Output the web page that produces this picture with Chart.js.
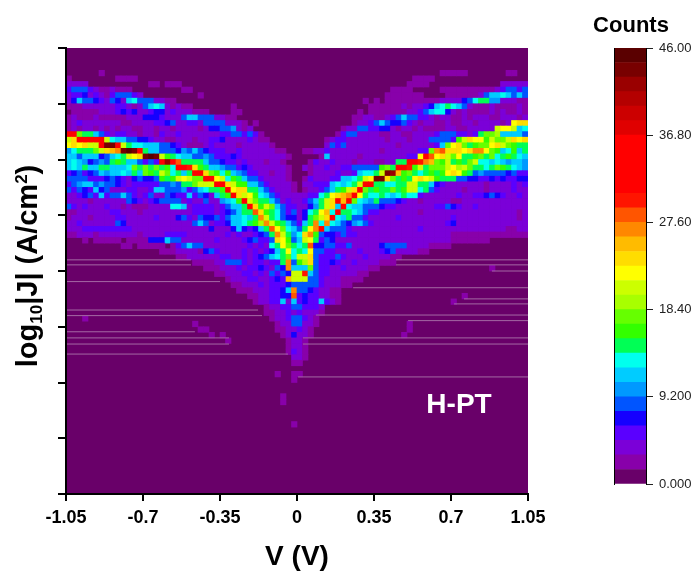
<!DOCTYPE html>
<html>
<head>
<meta charset="utf-8">
<title>H-PT</title>
<script src="https://cdn.jsdelivr.net/npm/chart.js@4"></script>
<style>
  html, body { margin: 0; background: #fff; }
  canvas { position: absolute; top: 0; display: block; }
  #map { left: 0; }
  #bar { left: 560px; }
</style>
</head>
<body>
<canvas id="map" width="694" height="574"></canvas>
<canvas id="bar" width="134" height="574"></canvas>
<script>
const zeros = n => Array(n).fill(0)

// counts per cell, one array per row of the map, named by row number from the bottom
const r12 = [...zeros(41),2]
const r16 = [...zeros(39),2]
const r17 = [...zeros(39),2]
const r20 = [...zeros(41),2]
const r21 = [...zeros(38),2,0,0,2,2]
const r23 = [...zeros(41),2,2]
const r24 = [...zeros(41),3,3,2]
const r25 = [...zeros(40),2,5,3,2]
const r26 = [...zeros(40),2,3,3,2]
const r27 = [...zeros(29),2,...zeros(10),2,3,3,2]
const r28 = [...zeros(26),2,0,2,...zeros(10),2,3,7,3,3,2,...zeros(16),2]
const r29 = [...zeros(24),2,2,...zeros(12),2,2,3,3,5,3,2,...zeros(17),2]
const r30 = [...zeros(23),2,...zeros(14),2,3,3,8,8,3,3,2,...zeros(16),2]
const r31 = [...zeros(3),2,...zeros(33),2,3,3,5,9,9,5,3,2]
const r32 = [...zeros(36),2,2,3,3,5,3,5,3,3,3,2]
const r33 = [...zeros(36),2,3,3,5,5,9,8,5,5,5,3]
const r34 = [...zeros(34),2,3,3,5,5,12,3,12,5,7,5,5,11,5,3,2,...zeros(20),2]
const r35 = [...zeros(33),2,2,3,3,5,5,7,7,28,5,7,5,5,3,3,2,2,...zeros(22),2]
const r36 = [...zeros(31),2,2,2,3,3,3,5,5,7,11,27,8,8,7,5,3,3,2,2]
const r37 = [...zeros(30),2,2,3,3,3,5,3,5,5,5,7,8,8,8,8,8,5,3,3,3,2,2]
const r38 = [...zeros(29),2,3,3,3,5,5,3,3,5,7,5,25,21,21,20,9,8,5,3,3,3,2,2,2,2]
const r39 = [...zeros(27),2,2,3,3,3,5,5,3,5,3,8,5,9,7,20,21,30,11,8,5,5,3,3,3,3,3,2,2]
const r40 = [...zeros(25),2,2,2,3,3,3,5,3,5,5,7,5,3,8,7,26,12,12,12,17,8,5,5,3,3,5,3,3,3,3,2,2,...zeros(20),2]
const r41 = [...zeros(23),2,2,2,2,3,3,8,9,8,5,3,5,5,3,5,5,14,27,9,16,19,23,8,5,5,7,5,3,3,5,3,3,3,3,2,2,2]
const r42 = [...zeros(20),2,2,3,3,3,3,3,3,5,5,3,3,5,3,5,7,8,11,13,14,17,13,20,20,24,8,5,5,5,8,5,3,3,3,5,3,3,3,3,2,2]
const r43 = [...zeros(17),2,2,2,3,3,3,3,2,7,8,5,3,3,3,3,5,3,5,3,5,7,12,15,22,13,15,13,22,8,8,5,5,3,3,3,3,5,3,3,3,5,7,8,3,3,3,3,2,2]
const r44 = [...zeros(10),2,2,0,2,2,2,2,2,0,2,5,8,12,9,9,3,3,3,3,3,3,3,3,5,3,5,3,13,15,22,18,14,13,15,28,7,7,8,8,5,5,8,3,3,3,3,3,7,8,8,9,8,3,3,3,3,2,2,2,2]
const r45 = [0,0,0,2,0,2,2,2,2,2,0,2,2,2,2,7,7,7,12,8,8,3,3,3,3,3,3,5,3,3,3,3,5,7,8,5,5,8,24,22,16,9,11,20,22,14,5,8,7,3,3,3,3,3,3,3,3,3,3,3,3,3,3,3,3,3,3,3,3,3,2,2,2,2,2,2,2]
const r46 = [2,2,3,3,3,2,3,3,3,3,3,3,3,2,3,3,3,3,5,5,5,5,3,3,3,3,3,3,3,5,3,5,3,3,5,7,9,14,26,20,14,10,13,24,27,16,8,7,7,5,8,5,5,3,3,3,3,3,3,3,3,3,3,3,3,3,3,3,3,3,2,2,2,2,2,2,2,2,2,2,2,2,2,2]
const r47 = [3,3,3,5,5,5,5,5,5,5,5,5,3,3,3,3,3,3,3,3,3,3,3,3,3,3,7,3,3,3,7,11,7,5,7,11,14,28,22,18,13,11,8,15,22,26,31,11,8,8,8,5,3,3,3,3,3,3,3,3,3,3,3,3,5,3,3,3,3,3,3,3,3,3,3,3,3,3,3,3,2,2,3,3]
const r48 = [3,3,5,3,3,3,3,3,3,8,7,3,3,3,3,3,3,3,3,3,3,3,3,8,11,8,3,5,5,7,11,12,13,14,16,19,26,20,16,14,11,9,5,11,14,26,13,27,13,11,8,7,10,12,8,5,3,3,3,3,3,3,3,3,3,3,3,3,3,5,7,3,3,3,3,3,3,3,3,3,3,3,3,3]
const r49 = [2,3,3,3,2,3,3,3,3,5,5,3,3,3,3,3,5,3,3,3,7,8,5,3,8,7,7,8,5,8,11,11,13,11,15,27,20,14,13,9,7,7,3,7,14,17,20,23,34,13,12,14,9,8,5,3,3,3,3,3,5,3,3,3,3,3,3,3,3,3,5,3,3,3,3,3,3,3,3,3,3,3,2,3]
const r50 = [2,2,3,3,3,3,3,3,5,5,3,3,3,2,3,3,3,3,3,3,3,3,3,5,5,5,5,3,5,7,8,12,15,14,28,24,16,14,13,8,5,8,3,7,13,15,22,25,13,33,15,14,13,12,8,5,5,3,3,3,3,3,3,3,2,3,3,3,3,3,3,3,3,3,3,3,3,3,3,3,3,3,2,3]
const r51 = [8,5,3,5,3,3,3,5,3,3,2,3,2,2,2,3,3,3,3,13,13,12,3,5,5,5,5,3,5,9,11,11,15,33,24,16,20,18,12,8,5,5,3,3,7,10,15,20,24,11,34,13,12,11,9,9,8,7,5,5,3,3,3,3,3,3,3,5,5,8,7,5,3,3,5,3,3,3,3,3,3,3,3,3]
const r52 = [3,3,3,3,2,3,3,3,3,3,3,8,7,5,3,5,7,8,8,9,8,3,5,3,3,8,3,3,10,11,13,16,33,20,18,15,15,12,9,3,5,3,3,5,8,11,14,20,24,33,25,34,18,13,12,10,14,8,8,8,7,5,3,3,2,3,3,3,3,3,2,2,3,3,3,3,3,3,3,3,3,3,3,3]
const r53 = [3,3,5,7,8,5,11,5,9,8,11,8,5,3,5,9,3,3,8,7,5,5,11,5,8,7,3,12,14,16,33,24,20,22,16,13,11,8,5,3,3,3,3,3,5,5,13,15,22,24,25,26,34,22,15,13,13,15,13,12,13,15,13,13,5,3,3,3,3,3,3,5,3,3,5,5,7,8,7,5,3,3,5,3]
const r54 = [8,5,8,7,5,11,7,8,3,3,3,5,5,3,3,5,11,12,9,8,9,10,5,9,11,13,15,15,16,33,22,24,23,15,14,12,9,5,3,3,3,2,0,2,3,3,5,9,12,14,16,20,24,33,18,14,16,15,15,17,14,16,21,20,13,14,8,5,3,3,3,3,2,3,3,3,2,3,3,3,3,5,3,3]
const r55 = [5,8,10,12,11,9,10,8,8,7,5,3,5,5,5,5,5,8,8,10,9,14,15,18,20,21,21,33,33,24,20,16,16,12,11,8,5,3,3,3,3,2,0,3,3,5,5,5,11,13,12,13,15,20,31,34,15,14,13,13,15,15,20,21,15,14,12,7,5,3,3,3,3,3,3,3,2,3,3,3,3,5,3,5]
const r56 = [8,8,8,8,5,5,5,7,8,7,5,3,7,8,7,7,9,16,14,16,21,22,21,18,17,33,33,22,20,13,16,14,11,8,8,5,3,3,3,3,2,0,0,2,5,3,3,3,5,5,11,12,13,15,20,22,44,44,24,18,14,16,15,22,24,22,21,16,15,15,15,9,8,7,7,5,5,7,5,7,5,5,7,7]
const r57 = [5,7,8,5,7,8,11,10,12,11,13,11,15,11,17,16,14,20,17,13,14,11,15,34,35,24,17,16,13,16,11,10,8,5,5,3,3,2,3,3,2,0,0,0,2,3,3,3,3,5,3,3,5,11,13,13,15,20,44,42,25,16,17,15,13,15,16,14,16,22,24,22,16,14,9,10,8,8,8,9,7,8,5,5]
const r58 = [12,13,11,15,12,12,15,14,12,12,11,13,17,15,18,14,17,15,16,13,33,35,30,24,16,14,11,11,10,9,8,5,7,5,3,3,3,3,3,3,2,0,0,3,2,3,3,5,3,3,5,5,8,8,9,8,9,16,17,15,36,34,30,16,20,15,18,18,17,20,22,19,20,18,15,15,13,15,18,16,14,13,11,10]
const r59 = [12,13,11,10,7,9,10,8,15,16,14,11,12,9,5,9,5,34,42,36,28,14,14,15,15,11,9,9,7,5,5,3,5,3,3,3,2,3,3,2,0,0,0,0,2,5,3,3,5,3,3,3,2,3,3,3,2,2,3,3,14,15,34,36,30,27,25,18,16,20,15,16,14,17,20,13,13,11,13,11,10,11,12,10]
const r60 = [12,11,9,11,12,11,7,8,12,13,15,21,22,24,44,46,44,21,16,15,13,11,12,9,9,10,8,5,5,5,7,5,3,3,3,3,3,3,3,3,2,...zeros(5),2,12,3,3,3,3,3,2,3,3,3,3,3,3,3,3,5,5,22,33,28,22,24,20,18,22,15,15,16,18,15,18,13,15,16,15,13,12]
const r61 = [10,13,15,14,14,17,20,23,25,27,44,46,43,36,15,12,11,9,8,8,7,10,9,11,9,7,5,5,5,3,3,5,3,3,3,3,3,3,2,2,0,0,0,2,2,3,3,5,3,3,3,3,3,3,3,3,3,2,3,3,3,3,3,3,5,5,18,27,28,23,23,24,22,23,26,26,22,18,16,11,13,16,12,14]
const r62 = [22,24,22,23,21,20,36,43,44,36,20,15,13,13,11,11,12,9,8,7,5,3,2,2,2,3,5,3,3,3,3,2,3,3,3,3,3,2,...zeros(9),3,8,5,8,3,3,3,3,3,3,3,3,3,2,3,3,3,3,3,3,5,11,17,22,24,18,15,16,17,18,22,24,20,18,16,15,15]
const r63 = [21,24,31,34,33,33,33,20,13,12,11,8,8,7,7,5,3,3,2,2,3,3,3,2,3,3,5,5,7,3,3,3,3,5,3,2,2,...zeros(10),2,3,5,5,3,3,3,3,3,3,3,2,3,3,3,2,3,3,3,8,8,8,8,5,16,20,23,22,22,16,20,18,17,20,24,22,24]
const r64 = [33,33,18,15,14,11,8,5,3,5,5,3,3,2,3,3,2,5,3,3,5,3,3,3,3,3,3,3,5,5,8,8,5,8,5,2,...zeros(13),2,5,9,8,3,3,3,3,2,2,3,3,2,2,3,3,3,3,5,8,8,8,5,5,3,5,15,17,18,19,12,12,11,11,9]
const r65 = [2,3,2,3,3,2,3,2,3,2,3,3,2,2,3,3,2,3,3,2,3,3,3,3,2,3,7,7,8,9,10,3,2,3,...zeros(16),2,3,3,8,9,5,5,7,7,3,2,3,3,2,3,2,2,2,2,3,3,2,2,3,3,3,3,3,20,22,22,20,12,13]
const r66 = [2,3,5,3,3,3,3,3,3,3,2,2,3,3,3,3,5,5,7,9,3,3,5,5,3,8,8,8,8,3,3,3,2,0,2,...zeros(17),2,3,3,5,9,12,9,7,7,9,5,3,2,3,3,2,2,3,2,2,3,3,2,3,3,3,3,2,3,22,24,23]
const r67 = [2,3,2,2,2,3,2,2,2,2,2,3,3,3,7,7,7,5,3,3,3,8,12,11,9,8,8,3,3,2,2,...zeros(21),2,2,3,3,2,2,3,5,8,11,8,8,5,5,3,2,3,3,2,2,3,2,3,3,3,2,2,3,3,3,2,3]
const r68 = [0,2,2,2,2,2,3,3,3,5,7,5,7,3,3,5,7,7,3,5,3,3,3,2,2,2,...zeros(4),2,2,...zeros(21),2,0,2,2,2,2,2,2,2,3,3,5,9,11,13,13,7,3,2,3,2,2,2,2,3,2,3,2,2,3,2]
const r69 = [2,2,2,3,3,3,3,3,3,5,5,3,2,3,9,11,13,11,3,2,3,2,2,...zeros(7),2,...zeros(24),2,2,2,2,2,2,3,2,3,3,5,7,11,13,15,13,11,8,3,2,2,2,3,2,2,2,2,3,2]
const r70 = [3,7,11,8,8,7,5,3,8,7,3,12,13,8,8,8,3,3,2,2,...zeros(34),2,0,2,0,2,2,2,2,2,2,2,2,2,2,3,3,3,3,7,9,13,15,15,10,10,3,3,3,2,2]
const r71 = [3,5,5,7,3,5,3,2,5,8,8,8,5,3,...zeros(10),2,...zeros(33),2,2,2,2,2,2,2,...zeros(4),2,2,2,2,2,2,3,8,11,12,13,12,9,11,9]
const r72 = [5,8,8,8,5,3,2,2,3,2,2,2,...zeros(9),2,2,...zeros(36),2,2,2,2,...zeros(5),2,2,2,2,2,2,2,2,2,2,3,5,8,8,6,8]
const r73 = [3,3,3,3,...zeros(11),2,2,0,2,2,2,...zeros(41),2,2,2,2,...zeros(13),3,3,3,3,3]
const r74 = [2,...zeros(8),2,2,2,2,...zeros(50),2,2,2,2]
const r75 = [...zeros(6),2,...zeros(61),2,2,2,2,2,...zeros(7),2,2]

const countRows = [
  r12, [], [], [], r16, r17, [], [], r20, r21, [], r23, r24, r25, r26, r27, r28, r29,
  r30, r31, r32, r33, r34, r35, r36, r37, r38, r39, r40, r41, r42, r43, r44, r45, r46,
  r47, r48, r49, r50, r51, r52, r53, r54, r55, r56, r57, r58, r59, r60, r61, r62, r63,
  r64, r65, r66, r67, r68, r69, r70, r71, r72, r73, r74, r75
]
const firstRow = 12
const columnStep = 0.025

// thin traces running in from the edges: row position, start and end voltage
const traceRow = [42, 41.1, 38.1, 33, 32, 29.1, 28, 26.9, 25.1, 42, 41.1, 40, 37, 35, 34.1, 32.1, 31.1, 28, 26.9, 21]
const traceFrom = [-1.05, -1.05, -1.05, -1.05, -1.05, -1.05, -1.05, -1.05, -1.05, 0.45, 0.45, 0.886, 0.255, 0.759, 0.714, 0.086, 0.505, 0.027, 0.027, 0.005]
const traceTo = [-0.482, -0.482, -0.35, -0.177, -0.159, -0.464, -0.309, -0.309, -0.041, 1.05, 1.05, 1.05, 1.05, 1.05, 1.05, 1.05, 1.05, 1.05, 1.05, 1.05]

const xTicks = [-1.05, -0.7, -0.35, 0, 0.35, 0.7, 1.05]
const yTicks = [0, 10, 20, 30, 40, 50, 60, 70, 80]
const barTicks = [0, 9.2, 18.4, 27.6, 36.8, 46]
const barTickLabels = ['0.000', '9.200', '18.40', '27.60', '36.80', '46.00']

// one colour per band of the scale, from 0 up to 46
const bandColors = [
  '#690069', '#8800aa', '#7b00d8', '#5a00ff', '#1500ff', '#0055ff', '#0099ff', '#00ccff',
  '#00ffee', '#00ff55', '#33ff00', '#66ff00', '#a8ff00', '#ccff00', '#ffff00', '#ffdd00',
  '#ffbb00', '#ff8800', '#ff5500', '#ff1500', '#ff0000', '#ff0000', '#ff0000', '#ff0000',
  '#e00000', '#cc0000', '#b40000', '#9a0000', '#780000', '#5a0000'
]
const maxCount = 46
const bandSize = maxCount / bandColors.length
const font = "'Liberation Sans', Arial, sans-serif"

Chart.defaults.font.family = font
Chart.defaults.animation = false

const colorFor = count => {
  return bandColors[Math.min(bandColors.length - 1, Math.floor((count + 0.1) / bandSize))]
}

const rowDatasets = countRows.map((row, i) => {
  const cells = []
  row.slice(0, 84).forEach((count, c) => {
    if (count > 0) cells.push({c, count})
  })
  return {
    type: 'bar',
    grouped: false,
    barPercentage: 1,
    categoryPercentage: 1,
    backgroundColor: cells.map(({count}) => colorFor(count)),
    data: cells.map(({c}) => ({
      x: xTicks[0] + (c + 0.5) * columnStep,
      y: [firstRow + i, firstRow + i + 1]
    }))
  }
})

const traceDatasets = traceRow.map((row, i) => ({
  type: 'line',
  order: -1,
  borderColor: '#a468a4',
  borderWidth: 1,
  pointRadius: 0,
  data: [{x: traceFrom[i], y: row}, {x: traceTo[i], y: row}]
}))

const mapText = {
  id: 'mapText',
  beforeDraw(chart) {
    const {ctx, chartArea: a} = chart
    ctx.save()
    ctx.fillStyle = bandColors[0]
    ctx.fillRect(a.left, a.top, a.right - a.left, a.bottom - a.top)
    ctx.restore()
  },
  afterDraw(chart) {
    const {ctx} = chart
    ctx.save()
    ctx.fillStyle = '#fff'
    ctx.font = `bold 28px ${font}`
    ctx.textAlign = 'center'
    ctx.textBaseline = 'middle'
    ctx.fillText('H-PT', 459, 405)

    // y title has a subscript and a superscript, so it goes piece by piece
    const parts = [
      {t: 'log', size: 29, dy: 0},
      {t: '10', size: 17, dy: 5},
      {t: '|J| (A/cm', size: 29, dy: 0},
      {t: '2', size: 17, dy: -10},
      {t: ')', size: 29, dy: 0}
    ]
    ctx.textAlign = 'left'
    ctx.textBaseline = 'alphabetic'
    ctx.fillStyle = '#000'
    const widths = parts.map(p => {
      ctx.font = `bold ${p.size}px ${font}`
      return ctx.measureText(p.t).width
    })
    let pos = -widths.reduce((a, b) => a + b, 0) / 2
    ctx.translate(37, 266)
    ctx.rotate(-Math.PI / 2)
    parts.forEach((p, i) => {
      ctx.font = `bold ${p.size}px ${font}`
      ctx.fillText(p.t, pos, p.dy)
      pos += widths[i]
    })
    ctx.restore()
  }
}

new Chart(document.getElementById('map'), {
  data: {datasets: [...rowDatasets, ...traceDatasets]},
  plugins: [mapText],
  options: {
    responsive: false,
    layout: {padding: {left: 0, right: 166, top: 48, bottom: 0}},
    plugins: {legend: {display: false}, tooltip: {enabled: false}},
    scales: {
      x: {
        type: 'linear',
        offset: false,
        min: -1.05,
        max: 1.05,
        afterBuildTicks: scale => { scale.ticks = xTicks.map(value => ({value})) },
        afterFit: scale => { scale.height = 80 },
        grid: {offset: false, drawOnChartArea: false, color: '#000', lineWidth: 2, tickLength: 7, z: 1},
        border: {color: '#000', width: 2, z: 1},
        ticks: {
          color: '#000',
          padding: 6,
          maxRotation: 0,
          autoSkip: false,
          font: {size: 18, weight: 'bold'},
          callback: value => String(value)
        },
        title: {display: true, text: 'V (V)', color: '#000', font: {size: 28, weight: 'bold'}, padding: 0}
      },
      y: {
        type: 'linear',
        min: 0,
        max: 80,
        afterBuildTicks: scale => { scale.ticks = yTicks.map(value => ({value})) },
        afterFit: scale => { scale.width = 66 },
        grid: {drawOnChartArea: false, color: '#000', lineWidth: 2, tickLength: 8, z: 1},
        border: {color: '#000', width: 2, z: 1},
        ticks: {callback: () => ''}
      }
    }
  }
})

const barTitle = {
  id: 'barTitle',
  afterDraw({ctx}) {
    ctx.save()
    ctx.fillStyle = '#000'
    ctx.font = `bold 22px ${font}`
    ctx.textAlign = 'center'
    ctx.textBaseline = 'middle'
    ctx.fillText('Counts', 71, 26)
    ctx.restore()
  }
}

new Chart(document.getElementById('bar'), {
  type: 'bar',
  data: {
    labels: ['Counts'],
    datasets: bandColors.map((color, i) => ({
      grouped: false,
      barPercentage: 1,
      categoryPercentage: 1,
      backgroundColor: color,
      data: [[i * bandSize, (i + 1) * bandSize]]
    }))
  },
  plugins: [barTitle],
  options: {
    responsive: false,
    layout: {padding: {left: 54, right: 0, top: 48, bottom: 90}},
    plugins: {legend: {display: false}, tooltip: {enabled: false}},
    scales: {
      x: {display: false},
      y: {
        position: 'right',
        min: 0,
        max: maxCount,
        afterBuildTicks: scale => { scale.ticks = barTicks.map(value => ({value})) },
        afterFit: scale => { scale.width = 48 },
        grid: {drawOnChartArea: false, color: '#222', lineWidth: 1, tickLength: 7},
        border: {color: '#000', width: 1, z: 1},
        ticks: {
          color: '#222',
          padding: 6,
          autoSkip: false,
          font: {size: 13},
          callback: (value, i) => barTickLabels[i]
        }
      },
      y2: {
        position: 'left',
        min: 0,
        max: maxCount,
        afterFit: scale => { scale.width = 0 },
        grid: {drawOnChartArea: false, drawTicks: false},
        border: {color: '#000', width: 1, z: 1},
        ticks: {display: false}
      }
    }
  }
})
</script>
</body>
</html>
